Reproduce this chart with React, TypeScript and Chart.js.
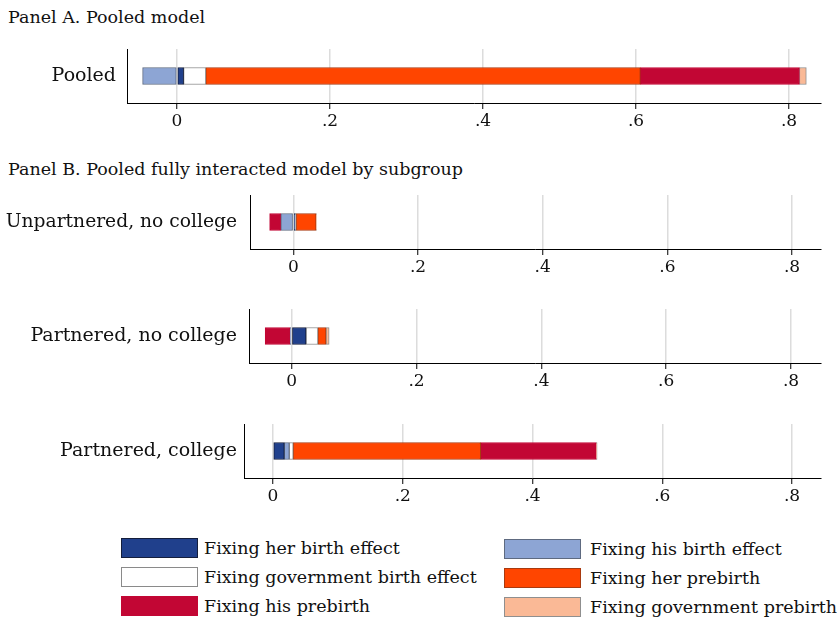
import React, { useEffect, useRef } from "react";
import { Chart, registerables } from "chart.js";
Chart.register(...registerables);

const FONT = "'DejaVu Serif', serif";

const seriesNames = [
  "Fixing her birth effect",
  "Fixing his birth effect",
  "Fixing government birth effect",
  "Fixing her prebirth",
  "Fixing his prebirth",
  "Fixing government prebirth",
];
const seriesColors = ["#20408C", "#8DA5D4", "#FFFFFF", "#FF4500", "#C20634", "#FAB996"];
const seriesBorders = ["#141E3C", "#5E6A80", "#8A8A8A", "#A83A10", "#C20634", "#8F8F8F"];

// values in series order: her birth, his birth, gov birth, her prebirth, his prebirth, gov prebirth
const pooledValues = [0.0086, -0.045, 0.029, 0.568, 0.208, 0.009];
const unpartneredNoCollegeValues = [0.003, -0.02, 0.0015, 0.032, -0.018, 0.0005];
const partneredNoCollegeValues = [0.023, -0.0025, 0.019, 0.013, -0.04, 0.005];
const partneredCollegeValues = [0.0174, 0.0077, 0.006, 0.289, 0.178, 0.0015];

const panelCategories = ["Pooled", "Unpartnered, no college", "Partnered, no college", "Partnered, college"];
const panelValues = [pooledValues, unpartneredNoCollegeValues, partneredNoCollegeValues, partneredCollegeValues];
const panelMin = [-0.0654, -0.0695, -0.0684, -0.0447];
const panelMax = [0.8418, 0.8465, 0.848, 0.8447];

const tickValues = [0, 0.2, 0.4, 0.6, 0.8];
const tickLabels = ["0", ".2", ".4", ".6", ".8"];

const panelTitles = ["Panel A. Pooled model", "Panel B. Pooled fully interacted model by subgroup"];

// layout (pixels)
const panelLeft = [127, 250, 249, 244];
const panelTop = [49, 195, 309, 424];
const labelPad = [11, 13, 12, 7];
const labelSize = [19, 18.7, 19, 19];
const AREA_H = 54;
const AXIS_H = 36;
const RIGHT_PAD = 16;
const W = 837;

function PanelChart({ idx }: { idx: number }) {
  const ref = useRef<HTMLCanvasElement | null>(null);
  useEffect(() => {
    if (!ref.current) return;
    const values = panelValues[idx];
    const chart = new Chart(ref.current, {
      type: "bar",
      data: {
        labels: [panelCategories[idx]],
        datasets: seriesNames.map((name, i) => ({
          label: name,
          data: [values[i]],
          backgroundColor: seriesColors[i],
          borderColor: seriesBorders[i],
          borderWidth: 1,
          borderSkipped: false,
          barThickness: 17,
        })),
      },
      options: {
        indexAxis: "y",
        animation: false,
        responsive: true,
        maintainAspectRatio: false,
        layout: { padding: { left: 0, right: RIGHT_PAD, top: 0, bottom: 0 } },
        plugins: { legend: { display: false }, tooltip: { enabled: false }, title: { display: false } },
        scales: {
          x: {
            type: "linear",
            stacked: true,
            min: panelMin[idx],
            max: panelMax[idx],
            afterBuildTicks: (s: any) => {
              s.ticks = tickValues.map((v) => ({ value: v }));
            },
            afterFit: (s: any) => {
              s.height = AXIS_H;
              s.paddingLeft = 0;
              s.paddingRight = 0;
            },
            ticks: {
              autoSkip: false,
              maxRotation: 0,
              padding: 2,
              color: "#111",
              font: { family: FONT, size: 17 },
              callback: (_v: any, i: number) => tickLabels[i],
            },
            grid: {
              color: "#DCDCDC",
              lineWidth: 1.5,
              drawTicks: true,
              tickLength: 6,
              tickColor: "#000",
              tickWidth: 1,
            },
            border: { display: true, color: "#000", width: 1 },
          },
          y: {
            type: "category",
            stacked: true,
            afterFit: (s: any) => {
              s.width = panelLeft[idx];
              s.paddingTop = 0;
              s.paddingBottom = 0;
            },
            grid: { display: false, drawTicks: false, tickLength: 0 },
            border: { display: true, color: "#000", width: 1 },
            ticks: {
              padding: labelPad[idx],
              color: "#111",
              font: { family: FONT, size: labelSize[idx] },
            },
          },
        },
      },
    } as any);
    return () => chart.destroy();
  }, [idx]);
  return (
    <div
      style={{
        position: "absolute",
        left: 0,
        top: panelTop[idx],
        width: W,
        height: AREA_H + AXIS_H,
      }}
    >
      <canvas ref={ref} />
    </div>
  );
}

const textStyle: React.CSSProperties = {
  position: "absolute",
  fontFamily: FONT,
  fontSize: 17.5,
  lineHeight: "17.5px",
  color: "#111",
  whiteSpace: "nowrap",
};

const legendBoxLeft = [121, 504];
const legendTextLeft = [204, 590];
const legendRowTop = [[538, 567, 596], [539, 568, 597]];

export default function App() {
  return (
    <div style={{ position: "absolute", left: 0, top: 0, width: W, height: 623, background: "#fff", overflow: "hidden" }}>
      <div style={{ ...textStyle, left: 8, top: 9 }}>{panelTitles[0]}</div>
      <div style={{ ...textStyle, left: 8, top: 161 }}>{panelTitles[1]}</div>
      {panelCategories.map((_, i) => (
        <PanelChart key={i} idx={i} />
      ))}
      {seriesNames.map((name, i) => {
        const col = i % 2;
        const row = Math.floor(i / 2);
        const top = legendRowTop[col][row];
        return (
          <React.Fragment key={name}>
            <div
              style={{
                position: "absolute",
                left: legendBoxLeft[col],
                top,
                width: 77,
                height: 20,
                boxSizing: "border-box",
                background: seriesColors[i],
                border: `1px solid ${seriesBorders[i]}`,
              }}
            />
            <div style={{ ...textStyle, left: legendTextLeft[col], top: top + 1.5 }}>{name}</div>
          </React.Fragment>
        );
      })}
    </div>
  );
}
